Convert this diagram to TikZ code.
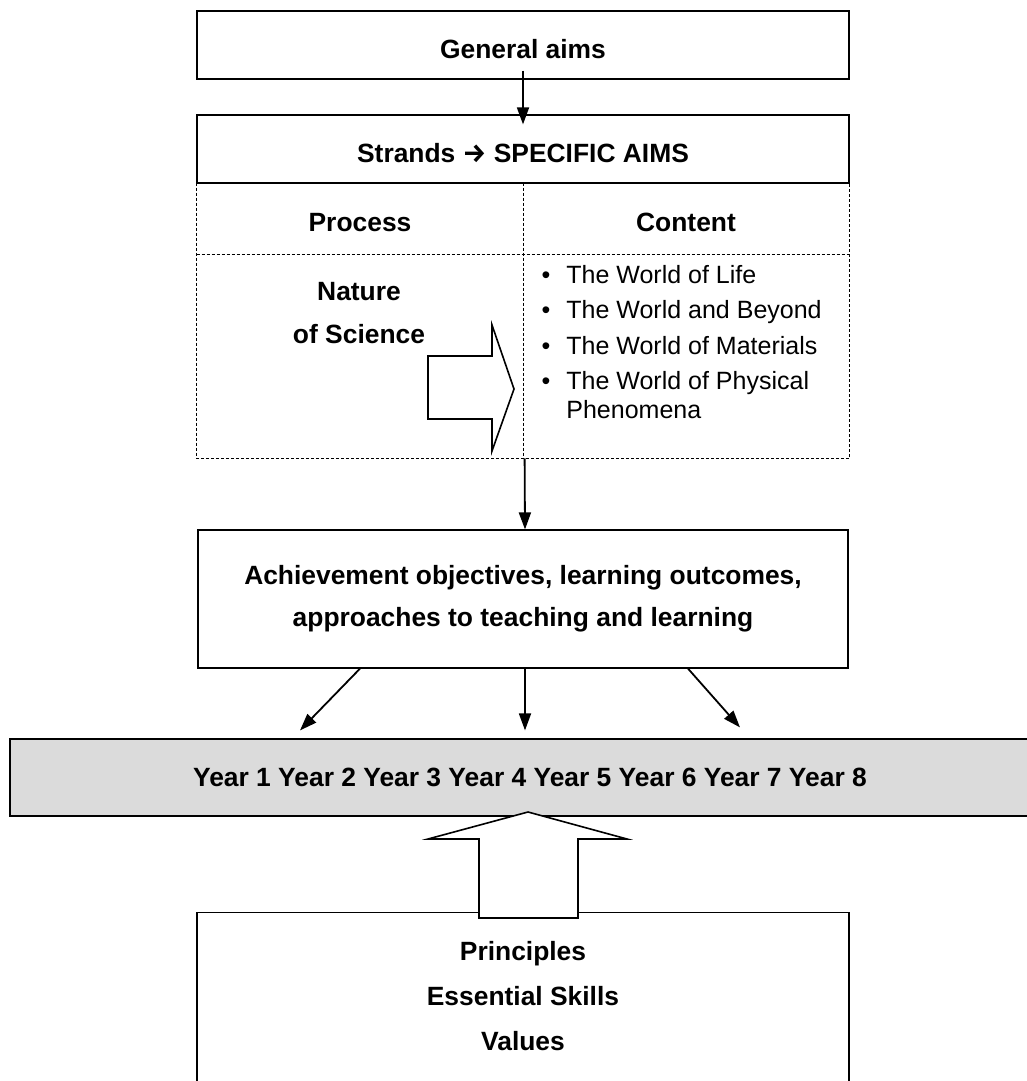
\documentclass[tikz,border=0pt]{standalone}
\usepackage{fontspec}
\setmainfont{Liberation Sans}
\newfontfamily\arrowfont{Fira Sans}
\usetikzlibrary{arrows.meta}
\newcommand\boxfont{\fontsize{13.2}{16}\selectfont\bfseries}
\newcommand\listfont{\fontsize{12.5}{15}\selectfont}

\begin{document}
\begin{tikzpicture}[x=0.5pt, y=-0.5pt,
    solidbox/.style={draw, line width=0.6pt, inner sep=0pt, font=\boxfont, minimum width=326pt},
    cell/.style={inner sep=0pt, font=\boxfont, minimum width=163pt},
    lowtext/.style={text height=13.2pt, text depth=0pt},
    dashline/.style={line width=0.6pt, dash pattern=on 1.5pt off 1pt},
    link/.style={line width=0.9pt, -{Triangle[length=8.5pt, width=6pt]}},
    bigarrow/.style={draw, line width=0.8pt, fill=white, line join=miter},
    item/.style={anchor=base west, inner sep=0pt, font=\listfont}]
    \useasboundingbox (0,0) rectangle (1027,1081);
    % Aims.
    \node[solidbox, lowtext, minimum height=34pt] (aims) at (523,45) {General aims};
    \node[solidbox, lowtext, minimum height=34pt] (strands) at (523,149) {Strands {\arrowfont\bfseries →} SPECIFIC AIMS};
    % Strands table.
    \node[cell, lowtext, minimum height=35.5pt] (process) at (360,218.5) {Process};
    \node[cell, lowtext, minimum height=35.5pt] (content) at (686,218.5) {Content};
    \node[cell, minimum height=102pt] (pbody) at (360,356) {};
    \node[cell, minimum height=102pt] (cbody) at (686,356) {};
    \draw[dashline] (process.north west) rectangle (cbody.south east);
    \draw[dashline] (process.south west) -- (content.south east);
    \draw[dashline] (process.north east) -- (pbody.south east);
    \node[font=\boxfont, align=center, inner sep=0pt] (nature) at (359,313.5) {Nature\\[5.5pt]of Science};
    \draw[bigarrow] (428,356) -- (492,356) -- (492,325) -- (514,389) -- (492,451) -- (492,419) -- (428,419) -- cycle;
    % Content list.
    \node[item] (life) at (566,283) {\llap{\textbullet\hspace{8pt}}The World of Life};
    \node[item] (beyond) at (566,318.5) {\llap{\textbullet\hspace{8pt}}The World and Beyond};
    \node[item] (materials) at (566,354) {\llap{\textbullet\hspace{8pt}}The World of Materials};
    \node[item] (physical) at (566,389) {\llap{\textbullet\hspace{8pt}}The World of Physical};
    \node[item] (phenomena) at (566,418) {Phenomena};
    % Objectives and years.
    \node[solidbox, minimum width=325pt, minimum height=69pt, align=center] (achieve) at (523,599) {Achievement objectives, learning outcomes,\\[5pt]approaches to teaching and learning};
    \node[draw, line width=0.6pt, fill=black!14, inner sep=0pt, font=\boxfont, minimum width=520pt, minimum height=38.5pt] (years) at (530,777.5) {Year 1 Year 2 Year 3 Year 4 Year 5 Year 6 Year 7 Year 8};
    \coordinate (yl) at ([xshift=-115pt, yshift=4pt]years.north);
    \coordinate (ym) at ([xshift=-2.5pt, yshift=4pt]years.north);
    \coordinate (yr) at ([xshift=105pt, yshift=5.5pt]years.north);
    % Principles.
    \node[solidbox, anchor=north, minimum height=100pt] (base) at (523,912) {};
    \node[font=\boxfont, align=center, inner sep=0pt] (values) at (523,996) {Principles\\[6.5pt]Essential Skills\\[6.5pt]Values};
    \draw[bigarrow] (479,918) -- (479,839) -- (428,839) -- (528,812) -- (627,839) -- (578,839) -- (578,918) -- cycle;
    % Links.
    \draw[link] ([yshift=4.5pt]aims.south) -- ([yshift=-5pt]strands.north);
    \draw[link] ([xshift=1pt]cbody.south west) -- ([xshift=1pt]achieve.north);
    \draw[link] ([xshift=-81.5pt]achieve.south) -- (yl);
    \draw[link] ([xshift=1pt]achieve.south) -- (ym);
    \draw[link] ([xshift=82.5pt]achieve.south) -- (yr);
\end{tikzpicture}
\end{document}
